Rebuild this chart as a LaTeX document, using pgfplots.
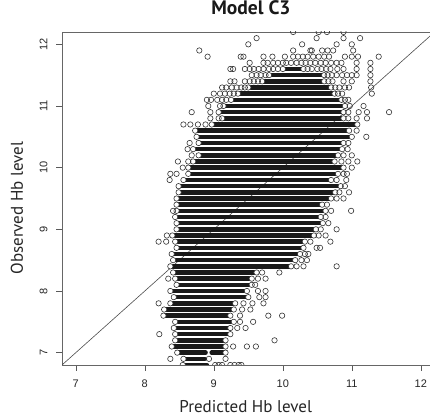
\documentclass[border=0pt]{standalone}
\usepackage{pgfplots}
\pgfplotsset{compat=1.18}
\usepackage{fontspec}
\setmainfont{Liberation Sans}
\newfontfamily\labelfont{PT Sans}
\begin{document}
\begin{tikzpicture}
\begin{axis}[
  scale only axis, width=372.6pt, height=333pt,
  xmin=6.8, xmax=12.2, ymin=6.8, ymax=12.2,
  xtick={7,8,9,10,11,12}, ytick={7,8,9,10,11,12},
  tick align=outside, tick pos=left, major tick length=6pt,
  tick style={black!65, line width=0.6pt},
  axis line style={black!60, line width=0.6pt},
  clip marker paths=true,
  /pgf/number format/assume math mode=true,
  tick label style={font=\fontsize{11}{13}\selectfont, text=black!85},
  xticklabel shift=5pt, yticklabel shift=5pt,
  yticklabel style={rotate=90, anchor=south},
  title={\labelfont\bfseries Model C3},
  title style={at={([yshift=11.3pt]axis description cs:0.507,1)}, anchor=base, font=\fontsize{19.5}{22}\selectfont, text=black!90},
  xlabel={\labelfont Predicted Hb level},
  xlabel style={at={([yshift=-48pt]axis description cs:0.493,0)}, anchor=base, font=\fontsize{17}{20}\selectfont, text=black!85},
  ylabel={\labelfont Observed Hb level},
  ylabel style={at={([xshift=-39pt]axis description cs:0,0.471)}, anchor=base, font=\fontsize{17}{20}\selectfont, text=black!85},
]
% identity line
\addplot[black!70, line width=0.6pt] coordinates {(6.8,6.8) (12.2,12.2)};
% dense cores of each 0.1-row
\addplot[draw=black!90, line width=4.6pt, line cap=round, unbounded coords=jump] table {
x y
8.55 6.8
8.90 6.8
nan nan
8.56 6.9
8.87 6.9
nan nan
8.47 7.0
8.88 7.0
nan nan
8.97 7.0
9.17 7.0
nan nan
8.39 7.1
9.17 7.1
nan nan
8.44 7.2
9.17 7.2
nan nan
8.44 7.3
9.24 7.3
nan nan
8.42 7.4
9.24 7.4
nan nan
8.44 7.5
9.29 7.5
nan nan
8.27 7.6
9.24 7.6
nan nan
8.28 7.7
9.29 7.7
nan nan
8.37 7.8
9.31 7.8
nan nan
8.42 7.9
9.50 7.9
nan nan
8.37 8.0
9.48 8.0
nan nan
8.46 8.1
9.55 8.1
nan nan
8.44 8.2
9.55 8.2
nan nan
8.41 8.3
9.62 8.3
nan nan
8.37 8.4
10.12 8.4
nan nan
8.41 8.5
10.18 8.5
nan nan
8.39 8.6
10.25 8.6
nan nan
8.46 8.7
10.30 8.7
nan nan
8.44 8.8
10.32 8.8
nan nan
8.40 8.9
10.45 8.9
nan nan
8.46 9.0
10.48 9.0
nan nan
8.46 9.1
10.58 9.1
nan nan
8.44 9.2
10.55 9.2
nan nan
8.46 9.3
10.62 9.3
nan nan
8.46 9.4
10.57 9.4
nan nan
8.46 9.5
10.70 9.5
nan nan
8.49 9.6
10.76 9.6
nan nan
8.49 9.7
10.84 9.7
nan nan
8.56 9.8
10.70 9.8
nan nan
8.63 9.9
10.80 9.9
nan nan
8.63 10.0
10.88 10.0
nan nan
8.70 10.1
10.75 10.1
nan nan
8.78 10.2
10.80 10.2
nan nan
8.70 10.3
10.86 10.3
nan nan
8.78 10.4
10.88 10.4
nan nan
8.75 10.5
11.00 10.5
nan nan
8.73 10.6
10.96 10.6
nan nan
8.97 10.7
11.08 10.7
nan nan
9.12 10.8
10.88 10.8
nan nan
9.07 10.9
10.88 10.9
nan nan
9.14 11.0
10.90 11.0
nan nan
9.25 11.1
10.85 11.1
nan nan
9.35 11.2
10.75 11.2
nan nan
9.50 11.3
10.70 11.3
nan nan
9.70 11.4
10.60 11.4
nan nan
9.80 11.5
10.60 11.5
nan nan
10.00 11.6
10.30 11.6
};
% ring marks at core ends
\addplot[only marks, mark=*, mark size=2.7pt, mark options={draw=black!80, fill=white, line width=0.6pt}, unbounded coords=discard] table {
x y
8.55 6.8
8.56 6.9
8.47 7.0
9.17 7.0
8.39 7.1
9.17 7.1
8.44 7.2
9.17 7.2
8.44 7.3
9.24 7.3
8.42 7.4
9.24 7.4
8.44 7.5
9.29 7.5
8.27 7.6
9.24 7.6
8.28 7.7
9.29 7.7
8.37 7.8
9.31 7.8
8.42 7.9
9.50 7.9
8.37 8.0
9.48 8.0
8.46 8.1
9.55 8.1
8.44 8.2
9.55 8.2
8.41 8.3
9.62 8.3
8.37 8.4
10.12 8.4
8.41 8.5
10.18 8.5
8.39 8.6
10.25 8.6
8.46 8.7
10.30 8.7
8.44 8.8
10.32 8.8
8.40 8.9
10.45 8.9
8.46 9.0
10.48 9.0
8.46 9.1
10.58 9.1
8.44 9.2
10.55 9.2
8.46 9.3
10.62 9.3
8.46 9.4
10.57 9.4
8.46 9.5
10.70 9.5
8.49 9.6
10.76 9.6
8.49 9.7
10.84 9.7
8.56 9.8
10.70 9.8
8.63 9.9
10.80 9.9
8.63 10.0
10.88 10.0
8.70 10.1
10.75 10.1
8.78 10.2
10.80 10.2
8.70 10.3
10.86 10.3
8.78 10.4
10.88 10.4
8.75 10.5
11.00 10.5
8.73 10.6
10.96 10.6
8.97 10.7
11.08 10.7
9.12 10.8
10.88 10.8
9.07 10.9
10.88 10.9
9.14 11.0
10.90 11.0
9.25 11.1
10.85 11.1
9.35 11.2
10.75 11.2
9.50 11.3
10.70 11.3
9.70 11.4
10.60 11.4
9.80 11.5
10.60 11.5
10.00 11.6
10.30 11.6
};
% scattered single observations
\addplot[only marks, mark=o, mark size=2.7pt, mark options={draw=black!80, line width=0.6pt}] table {
x y
9.02 6.8
9.07 6.8
9.12 6.8
9.24 6.8
9.30 6.8
9.36 6.8
9.40 6.8
8.37 6.9
8.93 6.9
9.17 6.9
9.28 7.1
9.48 7.1
9.61 7.1
9.88 7.2
8.21 7.3
9.34 7.4
9.46 7.4
9.38 7.5
9.57 7.5
9.38 7.6
9.79 7.6
9.99 7.6
9.41 7.7
9.53 7.7
8.20 7.8
9.43 7.8
9.56 7.8
9.72 7.8
9.66 7.9
9.75 7.9
9.64 8.0
9.75 8.0
9.60 8.1
8.34 8.2
9.64 8.2
9.75 8.2
9.70 8.3
9.95 8.3
10.20 8.4
10.30 8.4
10.78 8.4
10.27 8.5
10.35 8.5
10.32 8.6
10.37 8.6
10.49 8.7
10.54 8.7
8.20 8.8
8.31 8.8
10.40 8.8
10.69 8.8
8.32 8.9
10.52 8.9
10.62 8.9
10.55 9.0
10.78 9.0
10.66 9.1
10.62 9.2
8.41 9.3
10.70 9.3
10.99 9.3
10.64 9.4
10.78 9.5
10.88 9.5
10.82 9.6
10.96 9.6
10.90 9.7
8.36 9.8
10.78 9.8
10.92 9.8
8.37 9.9
8.46 9.9
10.88 9.9
10.93 9.9
8.55 10.0
11.00 10.0
8.48 10.1
8.63 10.1
10.85 10.1
10.95 10.1
11.08 10.1
8.68 10.2
10.88 10.2
11.00 10.2
8.62 10.3
10.94 10.3
8.65 10.4
10.95 10.4
11.21 10.5
11.07 10.6
8.56 10.7
8.66 10.7
8.77 10.7
8.88 10.7
8.95 10.8
9.07 10.8
10.95 10.8
11.07 10.8
11.22 10.8
8.68 10.9
8.95 10.9
10.95 10.9
11.10 10.9
11.22 10.9
11.54 10.9
8.92 11.0
9.09 11.0
10.97 11.0
11.17 11.0
8.90 11.1
8.96 11.1
9.05 11.1
9.12 11.1
9.18 11.1
10.90 11.1
10.95 11.1
9.00 11.2
9.09 11.2
9.16 11.2
9.23 11.2
9.29 11.2
10.80 11.2
10.86 11.2
11.29 11.2
9.12 11.3
9.18 11.3
9.26 11.3
9.33 11.3
9.40 11.3
9.45 11.3
10.76 11.3
10.82 11.3
10.90 11.3
10.96 11.3
11.28 11.3
9.24 11.4
9.30 11.4
9.45 11.4
9.52 11.4
9.58 11.4
9.64 11.4
10.66 11.4
10.72 11.4
10.88 11.4
11.00 11.4
11.27 11.4
9.55 11.5
9.62 11.5
9.68 11.5
9.75 11.5
10.65 11.5
10.71 11.5
10.78 11.5
10.86 11.5
10.93 11.5
11.00 11.5
11.07 11.5
11.27 11.5
9.24 11.6
9.28 11.6
9.45 11.6
9.52 11.6
9.58 11.6
9.65 11.6
9.72 11.6
9.80 11.6
9.86 11.6
9.93 11.6
10.36 11.6
10.42 11.6
10.50 11.6
10.56 11.6
10.63 11.6
10.69 11.6
10.79 11.6
10.88 11.6
11.07 11.6
11.27 11.6
9.52 11.7
9.72 11.7
9.78 11.7
9.86 11.7
9.93 11.7
10.00 11.7
10.05 11.7
10.12 11.7
10.20 11.7
10.27 11.7
10.33 11.7
10.40 11.7
10.47 11.7
10.55 11.7
10.62 11.7
10.70 11.7
10.78 11.7
10.85 11.7
11.07 11.7
11.27 11.7
8.91 11.8
9.39 11.8
9.43 11.8
9.72 11.8
9.85 11.8
10.03 11.8
10.15 11.8
10.22 11.8
10.29 11.8
10.36 11.8
10.44 11.8
10.52 11.8
10.60 11.8
10.67 11.8
10.90 11.8
11.00 11.8
11.09 11.8
11.39 11.8
8.79 11.9
10.15 11.9
10.40 11.9
10.42 11.9
10.57 11.9
10.65 11.9
10.73 11.9
11.02 11.9
9.50 12.0
10.28 12.0
10.78 12.0
11.00 12.0
9.62 12.1
10.49 12.1
10.88 12.1
11.12 12.1
10.15 12.2
10.52 12.2
10.64 12.2
10.88 12.2
};
\end{axis}
\pgfresetboundingbox
\path[use as bounding box] ([xshift=-62pt,yshift=-55pt]current axis.south west) rectangle ([xshift=-4.6pt,yshift=32pt]current axis.north east);
\end{tikzpicture}
\end{document}
